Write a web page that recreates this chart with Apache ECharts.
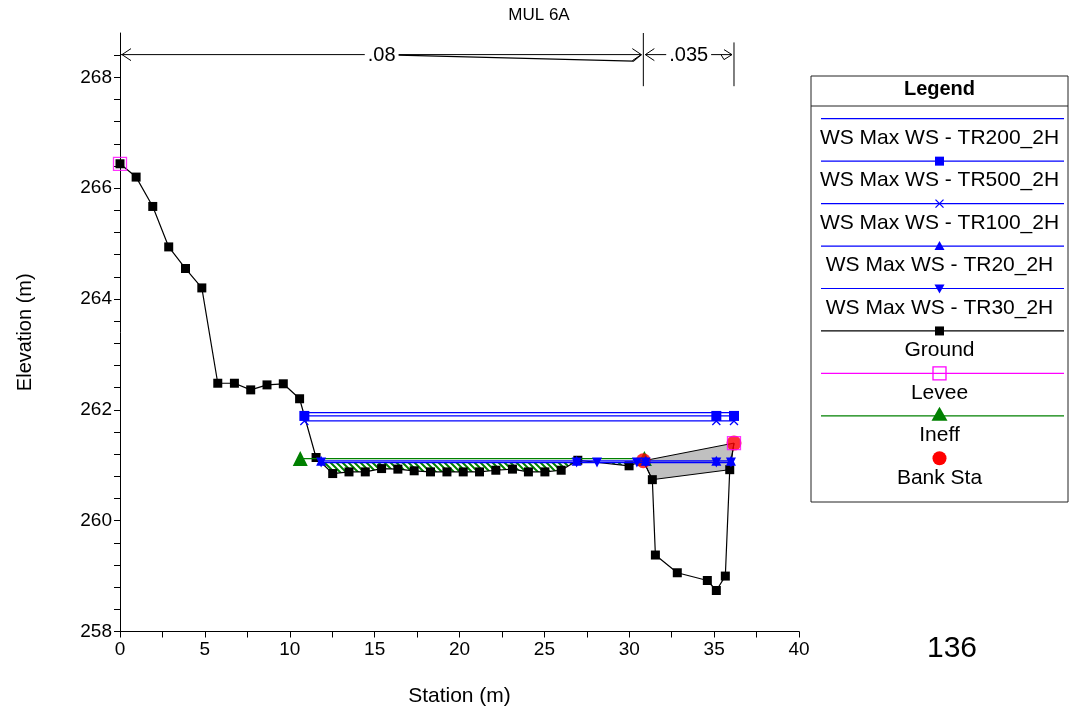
<!DOCTYPE html>
<html><head><meta charset="utf-8">
<script src="https://cdn.jsdelivr.net/npm/echarts@6/dist/echarts.min.js"></script>
<style>html,body{margin:0;padding:0;background:#fff}#c{width:1078px;height:716px}</style>
</head><body><div id="c"></div>
<script>
// ---------------- data ----------------
const groundSta  = [0, 0.95, 1.93, 2.87, 3.86, 4.82, 5.76, 6.74, 7.70, 8.66, 9.62, 10.58, 11.55, 12.53, 13.49, 14.45, 15.41, 16.37, 17.33, 18.29, 19.26, 20.22, 21.18, 22.14, 23.12, 24.06, 25.03, 25.99, 26.97, 29.99, 30.83, 31.36, 31.54, 32.83, 34.60, 35.13, 35.66, 35.92, 36.17];
const groundElev = [266.44, 266.20, 265.67, 264.94, 264.55, 264.20, 262.48, 262.48, 262.36, 262.45, 262.47, 262.20, 261.14, 260.85, 260.88, 260.88, 260.94, 260.93, 260.90, 260.88, 260.88, 260.88, 260.88, 260.91, 260.93, 260.88, 260.88, 260.91, 261.09, 260.99, 261.08, 260.74, 259.38, 259.06, 258.92, 258.74, 259.00, 260.92, 261.40];
const leveeSta = [0, 36.17];
const leveeElev = [266.44, 261.40];
const bankSta = [30.83, 36.17];
const bankElev = [261.08, 261.40];
const ineffSta = [10.62, 30.89];
const ineffElev = [261.12, 261.12];
const obstSta = [30.83, 31.36, 35.92, 36.17];
const obstElev = [261.08, 260.74, 260.92, 261.40];
const wsNames = ['WS Max WS - TR200_2H', 'WS Max WS - TR500_2H', 'WS Max WS - TR100_2H', 'WS Max WS - TR20_2H', 'WS Max WS - TR30_2H'];
const ws200Sta = [10.86, 36.17];               const ws200Elev = 261.95;
const ws500Sta = [10.86, 35.13, 36.17];        const ws500Elev = 261.89;
const ws100Sta = [10.86, 35.13, 36.17];        const ws100Elev = 261.80;
const ws20Sta  = [11.85, 26.90, 30.97, 35.13, 35.99];               const ws20Elev = 261.08;
const ws30Sta  = [11.85, 26.90, 28.10, 30.45, 30.97, 35.13, 35.99]; const ws30Elev = 261.05;
const nChangeSta = [0, 30.83, 36.17];
const nValues = ['.08', '.035'];
const nLineElev = 268.41;
const nBarTop = [268.80, 268.80, 268.63];
const nBarBottom = 267.84;
const xLabels = [0, 5, 10, 15, 20, 25, 30, 35, 40];
const yLabels = [258, 260, 262, 264, 266, 268];
const rsLabel = '136';
const chartTitle = 'MUL 6A';

// ---------------- helpers ----------------
const FONT = '"Liberation Sans", Arial, sans-serif';
const BLUE = '#0000ff';
const pairs = (xs, ys) => xs.map((x, i) => [x, Array.isArray(ys) ? ys[i] : ys]);

function belowLevel(sta, elev, level, s0, s1) {
  const pts = [];
  for (let i = 0; i < sta.length; i++) {
    if (sta[i] >= s0 && sta[i] <= s1) pts.push([sta[i], Math.min(elev[i], level)]);
    if (i < sta.length - 1) {
      const a = elev[i] - level, b = elev[i + 1] - level;
      if (a * b < 0) {
        const t = a / (a - b);
        const s = sta[i] + t * (sta[i + 1] - sta[i]);
        if (s >= s0 && s <= s1) pts.push([s, level]);
      }
    }
  }
  return pts;
}

const hatch = document.createElement('canvas');
hatch.width = 6; hatch.height = 6;
(function () {
  const c = hatch.getContext('2d');
  c.strokeStyle = '#008000'; c.lineWidth = 2;
  c.beginPath();
  c.moveTo(-1, -1); c.lineTo(7, 7);
  c.moveTo(-4, 2); c.lineTo(4, 10);
  c.moveTo(2, -4); c.lineTo(10, 4);
  c.stroke();
})();

function polySeries(name, points, style, z) {
  return {
    type: 'custom', name, coordinateSystem: 'cartesian2d', z, silent: true,
    data: [points[0]],
    renderItem: (params, api) => ({
      type: 'polygon',
      shape: { points: points.map(p => api.coord(p)) },
      style
    })
  };
}

const hatchPts = belowLevel(groundSta, groundElev, ws30Elev, ineffSta[0], ineffSta[1]);

function wsSeries(name, sta, elev, symbol, size, rotate, z) {
  return {
    type: 'line', name, data: pairs(sta, elev), z, zlevel: 1,
    symbol, symbolSize: size, symbolRotate: rotate || 0, showSymbol: symbol !== 'none',
    lineStyle: { color: BLUE, width: 1.3 },
    itemStyle: { color: BLUE, borderColor: BLUE, borderWidth: symbol && symbol.startsWith('path') ? 1.3 : 0 },
    animation: false
  };
}
const XPATH = 'path://M0,0L10,10M10,0L0,10';

// ground points hidden under a bank-station marker show no square of their own
const groundData = groundSta.map((s, i) => bankSta.includes(s)
  ? { value: [s, groundElev[i]], symbol: 'none' }
  : [s, groundElev[i]]);

const chart = echarts.init(document.getElementById('c'), null, { renderer: 'canvas' });
const option = {
  animation: false,
  backgroundColor: '#fff',
  title: { text: chartTitle, left: 'center', top: 2, textStyle: { fontFamily: FONT, fontSize: 17, fontWeight: 'normal', color: '#000' } },
  grid: { left: 120, right: 279, top: 33, bottom: 84.5, containLabel: false },
  xAxis: {
    type: 'value', min: 0, max: 40, interval: 2.5,
    name: 'Station (m)', nameLocation: 'middle', nameGap: 54,
    nameTextStyle: { fontFamily: FONT, fontSize: 21, color: '#000' },
    axisLine: { onZero: false, lineStyle: { color: '#000', width: 1 } },
    axisTick: { inside: false, length: 6, lineStyle: { color: '#000' } },
    axisLabel: { margin: 9, fontFamily: FONT, fontSize: 19, color: '#000',
      formatter: v => xLabels.includes(Math.round(v * 100) / 100) ? String(Math.round(v)) : '' },
    splitLine: { show: false }
  },
  yAxis: {
    type: 'value', min: 258, max: 268.8, interval: 0.4,
    name: 'Elevation (m)', nameLocation: 'middle', nameGap: 85, nameRotate: 90,
    nameTextStyle: { fontFamily: FONT, fontSize: 20, color: '#000' },
    axisLine: { show: true, onZero: false, lineStyle: { color: '#000', width: 1 } },
    axisTick: { show: true, inside: false, length: 6, lineStyle: { color: '#000' } },
    axisLabel: { margin: 8, fontFamily: FONT, fontSize: 19, color: '#000', showMaxLabel: false,
      formatter: v => { const r = Math.round(v * 100) / 100; return yLabels.includes(r) ? String(r) : ''; } },
    splitLine: { show: false }
  },
  series: [
    polySeries('obstruction', pairs(obstSta, obstElev), { fill: '#c0c0c0', stroke: '#000', lineWidth: 1 }, 1),
    polySeries('ineffHatch', hatchPts, { fill: { image: hatch, repeat: 'repeat' }, stroke: null }, 2),
    {
      type: 'line', name: 'Ground', data: groundData, z: 3,
      symbol: 'rect', symbolSize: 9, showSymbol: true,
      lineStyle: { color: '#000', width: 1.2 }, itemStyle: { color: '#000' }, animation: false
    },
    {
      type: 'line', name: 'Ineff', data: pairs(ineffSta, ineffElev), z: 4,
      symbol: 'triangle', symbolSize: 15, lineStyle: { color: '#008000', width: 1.2 },
      itemStyle: { color: '#008000' }, animation: false
    },
    {
      type: 'scatter', name: 'Bank Sta', data: pairs(bankSta, bankElev), z: 1, zlevel: 1,
      symbol: 'circle', symbolSize: 15, itemStyle: { color: '#ff0000' }, animation: false
    },
    {
      type: 'scatter', name: 'Levee', data: pairs(leveeSta, leveeElev), z: 2, zlevel: 1,
      symbol: 'rect', symbolSize: 13, itemStyle: { color: 'none', borderColor: '#ff00ff', borderWidth: 1.3 }, animation: false
    },
    wsSeries(wsNames[0], ws200Sta, ws200Elev, 'none', 0, 0, 3),
    wsSeries(wsNames[1], ws500Sta, ws500Elev, 'rect', 10, 0, 4),
    wsSeries(wsNames[2], ws100Sta, ws100Elev, XPATH, 8, 0, 3),
    wsSeries(wsNames[3], ws20Sta, ws20Elev, 'triangle', 10, 0, 3),
    wsSeries(wsNames[4], ws30Sta, ws30Elev, 'triangle', 10, 180, 3)
  ]
};
chart.setOption(option);

// ---------------- graphics: n-value bar, legend, RS label ----------------
const P = (x, y) => chart.convertToPixel({ gridIndex: 0 }, [x, y]);
const g = [];
const ln = (pts, extra) => g.push(Object.assign({ type: 'polyline', shape: { points: pts }, style: { stroke: '#000', lineWidth: 1, fill: null }, z: 20 }, extra || {}));

const yl = P(0, nLineElev)[1];
const xs = nChangeSta.map(s => P(s, nLineElev)[0]);
for (let i = 1; i < nChangeSta.length; i++) {
  ln([[xs[i], P(0, nBarTop[i])[1]], [xs[i], P(0, nBarBottom)[1]]]);
}
ln([[xs[0], yl], [xs[1] - 2, yl]]);
ln([[xs[1] + 2, yl], [xs[2] - 2, yl]]);
ln([[(xs[0] + xs[1]) / 2 + 16, yl + 0.6], [xs[1] - 10, yl + 6.5], [xs[1] - 2, yl]], { style: { stroke: '#000', lineWidth: 1.2, fill: null } });
ln([[xs[0] + 11, yl - 6], [xs[0] + 2, yl], [xs[0] + 11, yl + 6]]);
ln([[xs[1] - 11, yl - 6], [xs[1] - 2, yl], [xs[1] - 11, yl + 6]]);
ln([[xs[1] + 11, yl - 6], [xs[1] + 2, yl], [xs[1] + 11, yl + 6]]);
ln([[xs[2] - 10, yl - 5], [xs[2] - 2, yl], [xs[2] - 10, yl + 5], [xs[2] - 13, yl]]);
for (let i = 0; i < nValues.length; i++) {
  const cx = (xs[i] + xs[i + 1]) / 2;
  g.push({ type: 'text', z: 21, x: cx, y: yl + 1,
    style: { text: nValues[i], fontFamily: FONT, fontSize: 20, fill: '#000', align: 'center', verticalAlign: 'middle',
      backgroundColor: '#fff', padding: [0, 3] } });
}

// legend box
const LX = 811, LY = 76, LW = 257, LH = 426, LC = LX + LW / 2;
g.push({ type: 'rect', z: 20, shape: { x: LX, y: LY, width: LW, height: LH }, style: { fill: '#fff', stroke: '#222', lineWidth: 1 } });
ln([[LX, 106], [LX + LW, 106]], { style: { stroke: '#222', lineWidth: 1, fill: null } });
g.push({ type: 'text', z: 21, x: LC, y: 89, style: { text: 'Legend', fontFamily: FONT, fontSize: 20, fontWeight: 'bold', fill: '#000', align: 'center', verticalAlign: 'middle' } });
const legItems = [
  { name: wsNames[0], color: BLUE, mark: 'none' },
  { name: wsNames[1], color: BLUE, mark: 'rect' },
  { name: wsNames[2], color: BLUE, mark: 'x' },
  { name: wsNames[3], color: BLUE, mark: 'tri' },
  { name: wsNames[4], color: BLUE, mark: 'dtri' },
  { name: 'Ground', color: '#000', mark: 'rect' },
  { name: 'Levee', color: '#ff00ff', mark: 'hrect' },
  { name: 'Ineff', color: '#008000', mark: 'bigtri' },
  { name: 'Bank Sta', color: '#ff0000', mark: 'circle', noLine: true }
];
const lineY0 = 118.7, step = 42.45;
legItems.forEach((it, i) => {
  const ly = lineY0 + i * step;
  if (!it.noLine) ln([[821, ly], [1064, ly]], { style: { stroke: it.color, lineWidth: 1.2, fill: null } });
  const c = it.color;
  if (it.mark === 'rect') g.push({ type: 'rect', z: 22, shape: { x: LC - 4.5, y: ly - 4.5, width: 9, height: 9 }, style: { fill: c } });
  if (it.mark === 'hrect') g.push({ type: 'rect', z: 22, shape: { x: LC - 6.5, y: ly - 6.5, width: 13, height: 13 }, style: { fill: 'none', stroke: c, lineWidth: 1.3 } });
  if (it.mark === 'x') g.push({ type: 'polyline', z: 22, shape: { points: [[LC - 4, ly - 4], [LC + 4, ly + 4]] }, style: { stroke: c, lineWidth: 1.2 } },
                              { type: 'polyline', z: 22, shape: { points: [[LC + 4, ly - 4], [LC - 4, ly + 4]] }, style: { stroke: c, lineWidth: 1.2 } });
  if (it.mark === 'tri') g.push({ type: 'polygon', z: 22, shape: { points: [[LC, ly - 5], [LC + 5, ly + 4], [LC - 5, ly + 4]] }, style: { fill: c } });
  if (it.mark === 'dtri') g.push({ type: 'polygon', z: 22, shape: { points: [[LC, ly + 5], [LC + 5, ly - 4], [LC - 5, ly - 4]] }, style: { fill: c } });
  if (it.mark === 'bigtri') g.push({ type: 'polygon', z: 22, shape: { points: [[LC, ly - 9], [LC + 8, ly + 5], [LC - 8, ly + 5]] }, style: { fill: c } });
  if (it.mark === 'circle') g.push({ type: 'circle', z: 22, shape: { cx: LC, cy: ly, r: 7 }, style: { fill: c } });
  g.push({ type: 'text', z: 21, x: LC, y: ly + 19.5, style: { text: it.name, fontFamily: FONT, fontSize: 21, fill: '#000', align: 'center', verticalAlign: 'middle' } });
});

g.push({ type: 'text', z: 21, x: 952, y: 649, style: { text: rsLabel, fontFamily: FONT, fontSize: 30, fill: '#000', align: 'center', verticalAlign: 'middle' } });

chart.setOption({ graphic: g });
</script>
</body></html>
